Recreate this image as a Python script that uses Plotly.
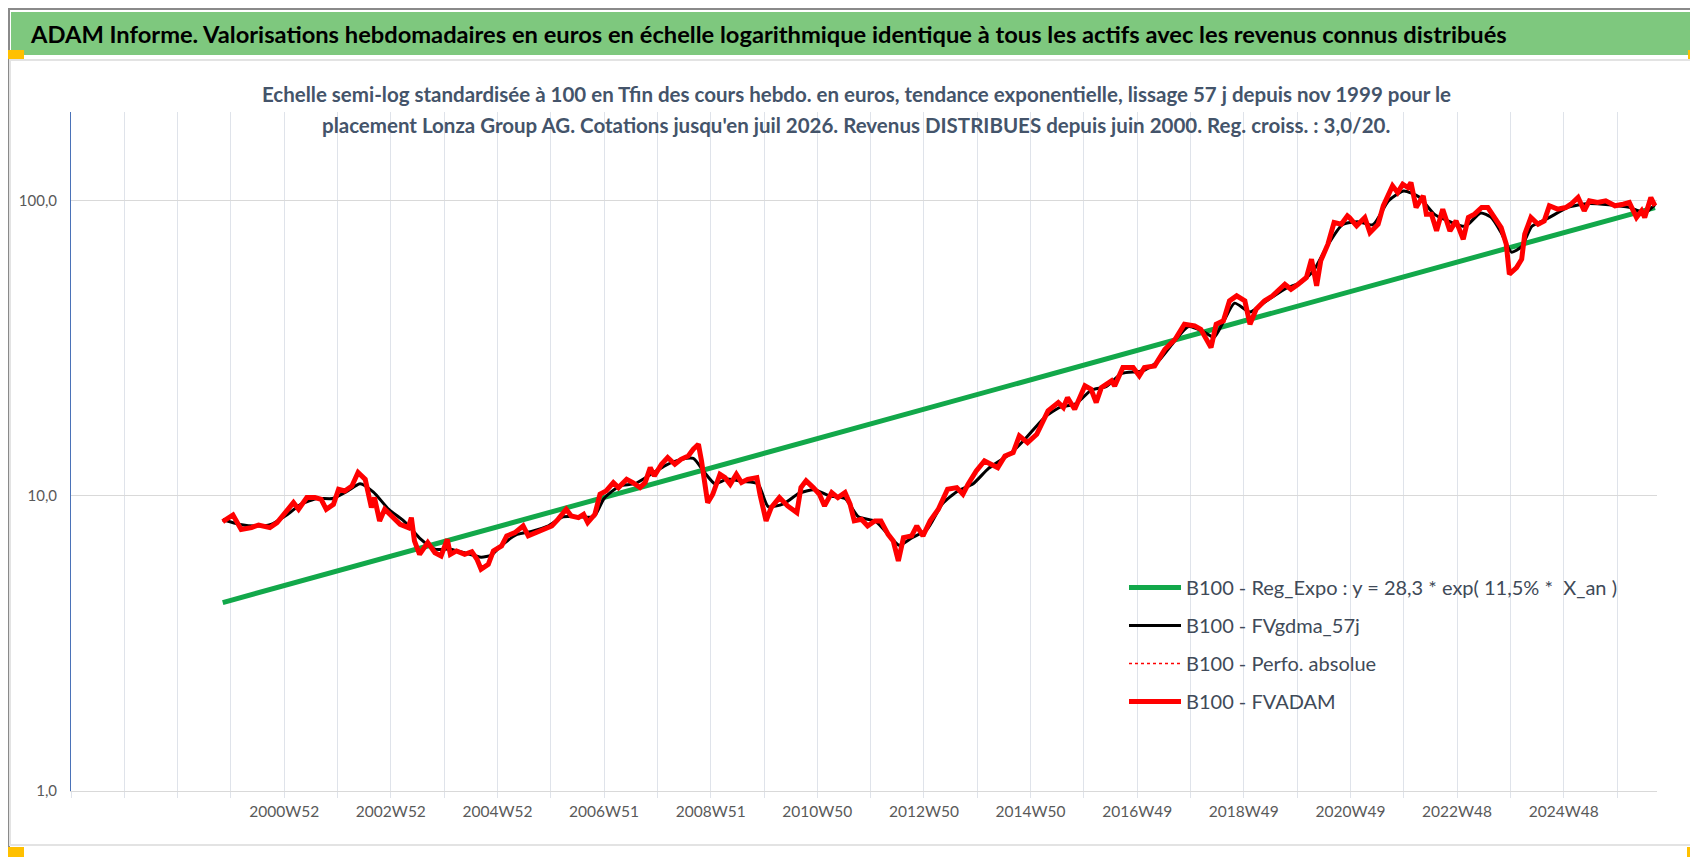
import math
import plotly.graph_objects as go

# weekly index (0 = first gridline, ~end of 1996), values in base 100
fvadam_weeks = [148, 158, 166, 176, 183, 194, 201, 209, 217, 222, 230, 238, 244, 249, 256, 261, 267, 274, 280, 287,
                291, 293, 296, 301, 306, 313, 321, 329, 332, 335, 340, 348, 355, 361, 367, 370, 376, 384, 391, 396,
                400, 407, 412, 420, 425, 433, 441, 446, 454, 462, 469, 475, 483, 488, 495, 500, 504, 511, 516, 522,
                529, 534, 542, 548, 555, 560, 565, 569, 576, 582, 589, 595, 602, 607, 612, 615, 618, 621, 626, 633,
                638, 643, 649, 654, 660, 669, 672, 675, 678, 683, 691, 699, 708, 712, 717, 724, 730, 735, 742, 748,
                755, 760, 764, 771, 777, 784, 790, 797, 802, 807, 812, 820, 825, 831, 838, 846, 855, 864, 870, 875,
                877, 883, 891, 904, 911, 919, 925, 933, 942, 953, 963, 968, 972, 979, 989, 995, 1000, 1005, 1015, 1018,
                1026, 1036, 1042, 1047, 1057, 1067, 1077, 1086, 1096, 1102, 1112, 1117, 1124, 1130, 1137, 1145, 1150, 1156, 1164, 1172,
                1184, 1190, 1197, 1205, 1210, 1215, 1219, 1226, 1232, 1239, 1245, 1247, 1254, 1262, 1267, 1275, 1280, 1289, 1294, 1299,
                1304, 1307, 1312, 1319, 1322, 1327, 1332, 1338, 1345, 1351, 1358, 1363, 1369, 1376, 1382, 1389, 1395, 1400, 1403, 1410,
                1415, 1418, 1424, 1431, 1437, 1442, 1450, 1458, 1463, 1470, 1476, 1481, 1489, 1497, 1506, 1514, 1520, 1527, 1532, 1535,
                1541, 1545]
fvadam = [8.18, 8.62, 7.70, 7.81, 7.97, 7.81, 8.12, 8.78, 9.49, 9.01, 9.87, 9.87, 9.74, 9.01, 9.36, 10.53, 10.39, 10.81, 12.0, 11.38,
          9.87, 9.13, 9.87, 8.23, 9.01, 8.55, 8.01, 7.81, 8.44, 7.04, 6.34, 6.95, 6.42, 6.26, 7.13, 6.34, 6.51, 6.34, 6.47, 6.10,
          5.64, 5.86, 6.51, 6.77, 7.32, 7.51, 7.91, 7.32, 7.51, 7.70, 7.91, 8.33, 9.01, 8.55, 8.44, 8.66, 8.12, 8.66, 10.13, 10.40,
          11.10, 10.67, 11.38, 11.10, 10.67, 11.10, 12.47, 11.69, 12.80, 13.49, 12.80, 13.31, 13.66, 14.39, 14.96, 13.14, 11.25, 9.49, 10.13, 11.84,
          11.53, 10.95, 11.84, 11.10, 11.38, 11.53, 10.13, 8.89, 8.23, 9.13, 9.87, 9.25, 8.78, 10.67, 11.25, 10.67, 10.13, 9.25, 10.26, 9.87,
          10.26, 9.36, 8.23, 8.33, 7.91, 8.23, 8.23, 7.41, 7.04, 6.02, 7.22, 7.32, 7.91, 7.32, 8.23, 9.01, 10.53, 10.67, 10.13, 10.95,
          11.24, 12.15, 13.14, 12.47, 13.66, 14.03, 15.97, 15.16, 16.17, 19.42, 20.72, 19.93, 21.54, 19.67, 23.60, 22.98, 20.72, 23.29, 24.54, 23.60,
          27.22, 27.22, 25.52, 27.22, 27.59, 31.40, 33.95, 38.16, 37.69, 36.70, 31.82, 38.16, 39.19, 45.81, 47.64, 45.81, 38.16, 42.91, 45.81, 47.64,
          52.16, 50.15, 52.16, 54.95, 63.39, 51.51, 62.61, 71.27, 84.42, 83.33, 88.98, 87.79, 82.28, 87.79, 78.06, 83.33, 96.17, 112.4, 106.7, 113.8,
          110.9, 115.3, 94.9, 104.0, 90.1, 90.1, 79.1, 93.7, 79.1, 85.5, 74.1, 87.8, 90.1, 94.9, 94.9, 86.6, 81.2, 71.3, 56.4, 59.4,
          63.4, 77.1, 87.8, 83.3, 85.5, 96.2, 93.7, 94.9, 97.4, 102.6, 92.5, 100.0, 98.7, 100.0, 96.2, 97.4, 98.7, 87.8, 92.5, 87.8,
          102.6, 96.2]

gdma_weeks = [148, 165, 180, 195, 210, 225, 240, 255, 270, 282, 295, 310, 325, 340, 355, 370, 385, 400, 410, 420,
              435, 450, 465, 480, 495, 510, 520, 535, 550, 565, 580, 595, 607, 618, 628, 640, 655, 670, 680, 695,
              710, 725, 740, 755, 768, 785, 800, 808, 820, 835, 850, 865, 880, 895, 915, 930, 950, 965, 980, 995,
              1010, 1025, 1045, 1060, 1075, 1090, 1105, 1115, 1125, 1135, 1150, 1165, 1185, 1200, 1212, 1225, 1240, 1255, 1270, 1285,
              1300, 1315, 1330, 1345, 1360, 1375, 1385, 1395, 1405, 1415, 1425, 1440, 1460, 1480, 1500, 1520, 1535, 1545]
gdma = [8.3, 8.0, 7.9, 8.0, 8.6, 9.4, 9.8, 9.8, 10.4, 11.0, 10.3, 9.0, 8.2, 7.2, 6.6, 6.6, 6.4, 6.2, 6.3, 6.8,
        7.4, 7.6, 7.9, 8.5, 8.5, 8.5, 9.8, 10.8, 11.0, 11.8, 12.7, 13.3, 13.4, 12.0, 11.0, 11.4, 11.2, 11.0, 9.2, 9.4,
        10.2, 10.5, 10.0, 9.8, 8.5, 8.2, 7.2, 6.8, 7.2, 7.7, 9.4, 10.4, 11.0, 12.4, 13.8, 15.5, 18.5, 20.0, 20.5, 22.8,
        23.5, 26.0, 26.5, 28.5, 33.0, 37.5, 36.0, 34.5, 39.5, 45.0, 42.0, 45.5, 50.5, 53.0, 58.0, 70.0, 83.0, 85.0, 83.0, 100.0,
        108.0, 103.0, 90.0, 85.0, 82.0, 91.0, 88.0, 78.0, 67.0, 70.0, 82.0, 87.0, 95.0, 98.0, 97.0, 95.0, 91.0, 97.0]

reg_weeks = [148, 1545]
reg_expo = [4.35, 94.9]

tick_weeks = [52 * k for k in range(30)]
tick_text = ['', '', '', '', '2000W52', '', '2002W52', '', '2004W52', '', '2006W51', '', '2008W51', '', '2010W50', '',
             '2012W50', '', '2014W50', '', '2016W49', '', '2018W49', '', '2020W49', '', '2022W48', '', '2024W48', '']

W, H = 1698, 857
ML, MR, MT, MB = 63, 49, 104, 74
PW, PH = W - ML - MR, H - MT - MB


def px(x):
    return (x - ML) / PW


def py(y):
    return (H - MB - y) / PH


FONT = 'Lato, Carlito, sans-serif'

fig = go.Figure()
fig.add_trace(go.Scatter(x=reg_weeks, y=reg_expo, mode='lines', legendgroup='a',
                         name='B100 - Reg_Expo : y = 28,3 * exp( 11,5% *  X_an )',
                         line=dict(color='#12a84a', width=5)))
fig.add_trace(go.Scatter(x=gdma_weeks, y=gdma, mode='lines', legendgroup='b', name='B100 - FVgdma_57j',
                         line=dict(color='black', width=3, shape='spline', smoothing=0.6)))
fig.add_trace(go.Scatter(x=fvadam_weeks, y=fvadam, mode='lines', legendgroup='c', name='B100 - Perfo. absolue',
                         line=dict(color='red', width=1.5, dash='dot')))
fig.add_trace(go.Scatter(x=fvadam_weeks, y=fvadam, mode='lines', legendgroup='d', name='B100 - FVADAM',
                         line=dict(color='#ff0000', width=5)))

shapes = [
    # outer frame and chart border
    dict(type='rect', xref='paper', yref='paper', x0=px(1), x1=px(W - 1), y0=py(H - 1), y1=py(1),
         line=dict(color='#8a8a8a', width=2), layer='below'),
    dict(type='rect', xref='paper', yref='paper', x0=px(2), x1=px(1692), y0=py(837), y1=py(52),
         line=dict(color='#e3e3e3', width=2), layer='below'),
    # title banner
    dict(type='rect', xref='paper', yref='paper', x0=px(3), x1=px(1693), y0=py(47), y1=py(4),
         fillcolor='#7ec87e', line=dict(width=0), layer='below'),
]
# selection handles
for x0, y0, x1, y1 in [(0, 42, 16, 51), (1680, 42, 1696, 51), (0, 839, 16, 850), (1679, 839, 1697, 850), (1692, 803, 1697, 850)]:
    shapes.append(dict(type='rect', xref='paper', yref='paper', x0=px(x0), x1=px(x1), y0=py(y1), y1=py(y0),
                       fillcolor='#ffc000', line=dict(width=0)))

annotations = [
    dict(text='ADAM Informe. Valorisations hebdomadaires en euros en échelle logarithmique identique à tous les actifs avec les revenus connus distribués',
         xref='paper', yref='paper', x=px(20), y=py(26), xanchor='left', yanchor='middle', showarrow=False,
         font=dict(family=FONT, size=23.7, color='black', weight='bold')),
    dict(text="Echelle semi-log standardisée à 100 en Tfin des cours hebdo. en euros, tendance exponentielle, lissage 57 j depuis nov 1999 pour le",
         xref='paper', yref='paper', x=px(848), y=py(86), xanchor='center', yanchor='middle', showarrow=False,
         font=dict(family=FONT, size=20.5, color='#44546a', weight='bold')),
    dict(text="placement Lonza Group AG. Cotations jusqu'en juil 2026. Revenus DISTRIBUES depuis juin 2000. Reg. croiss. : 3,0/20.",
         xref='paper', yref='paper', x=px(848), y=py(117), xanchor='center', yanchor='middle', showarrow=False,
         font=dict(family=FONT, size=20.5, color='#44546a', weight='bold')),
]

fig.update_layout(
    width=W, height=H,
    margin=dict(l=ML, r=MR, t=MT, b=MB),
    paper_bgcolor='white', plot_bgcolor='white',
    font=dict(family=FONT, color='#595959'),
    showlegend=True,
    legend=dict(x=px(1116), y=py(560), xanchor='left', yanchor='top', bgcolor='rgba(0,0,0,0)',
                font=dict(family=FONT, size=20, color='#404a58'), tracegroupgap=9, itemwidth=52),
    shapes=shapes,
    annotations=annotations,
    xaxis=dict(range=[0, 1547], tickvals=tick_weeks, ticktext=tick_text, showgrid=True, gridcolor='#dfe3ea',
               gridwidth=1, ticks='outside', ticklen=6, tickcolor='#dfe3ea', showline=True, linecolor='#d9d9d9',
               tickfont=dict(size=15.5, color='#595959'), zeroline=False),
    yaxis=dict(type='log', range=[0, math.log10(200)], tickvals=[1, 10, 100], ticktext=['1,0', '10,0', '100,0'],
               showgrid=True, gridcolor='#d9d9d9', showline=True, linecolor='#4a72b8', linewidth=1,
               tickfont=dict(size=15, color='#595959'), ticks='', ticklabelstandoff=10, zeroline=False),
)

fig.write_html("out.html")
